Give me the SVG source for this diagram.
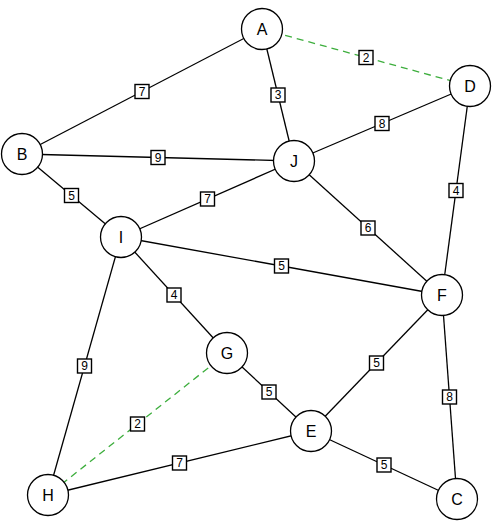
<svg xmlns="http://www.w3.org/2000/svg" width="492" height="528" viewBox="0 0 492 528">
<style>
.e{stroke:#000;stroke-width:1.3;fill:none}
.g{stroke:#3dae3d;stroke-width:1.3;stroke-dasharray:7,5;fill:none}
.n circle{fill:#fff;stroke:#000;stroke-width:1.3}
.n text{font-family:"Liberation Sans",Arial,sans-serif;font-size:16px;text-anchor:middle;dominant-baseline:central;fill:#000}
.w rect{fill:#fff;stroke:#000;stroke-width:1.4}
.w text{font-family:"Liberation Sans",Arial,sans-serif;font-size:12px;text-anchor:middle;dominant-baseline:central;fill:#000}
</style>
<rect width="492" height="528" fill="#fff"/>
<g id="connectors">
<line class="e" x1="262" y1="29" x2="22" y2="154"/>
<line class="e" x1="262" y1="29" x2="294" y2="161"/>
<line class="g" x1="262" y1="29" x2="470" y2="86"/>
<line class="e" x1="294" y1="161" x2="470" y2="86"/>
<line class="e" x1="22" y1="154" x2="294" y2="161"/>
<line class="e" x1="22" y1="154" x2="121" y2="237"/>
<line class="e" x1="294" y1="161" x2="121" y2="237"/>
<line class="e" x1="294" y1="161" x2="442" y2="295"/>
<line class="e" x1="121" y1="237" x2="442" y2="295"/>
<line class="e" x1="470" y1="86" x2="442" y2="295"/>
<line class="e" x1="121" y1="237" x2="227" y2="353"/>
<line class="e" x1="121" y1="237" x2="48" y2="495"/>
<line class="e" x1="442" y1="295" x2="311" y2="431"/>
<line class="e" x1="442" y1="295" x2="457" y2="499"/>
<line class="e" x1="227" y1="353" x2="311" y2="431"/>
<line class="g" x1="227" y1="353" x2="48" y2="495"/>
<line class="e" x1="48" y1="495" x2="311" y2="431"/>
<line class="e" x1="311" y1="431" x2="457" y2="499"/>
<g class="w">
<rect x="135" y="84.5" width="14" height="14"/><text x="142" y="91.5">7</text>
<rect x="271" y="88" width="14" height="14"/><text x="278" y="95">3</text>
<rect x="359" y="50.5" width="14" height="14"/><text x="366" y="57.5">2</text>
<rect x="375" y="116.5" width="14" height="14"/><text x="382" y="123.5">8</text>
<rect x="151" y="150.5" width="14" height="14"/><text x="158" y="157.5">9</text>
<rect x="64.5" y="188.5" width="14" height="14"/><text x="71.5" y="195.5">5</text>
<rect x="200.5" y="192" width="14" height="14"/><text x="207.5" y="199">7</text>
<rect x="361" y="221" width="14" height="14"/><text x="368" y="228">6</text>
<rect x="274.5" y="259" width="14" height="14"/><text x="281.5" y="266">5</text>
<rect x="449" y="183.5" width="14" height="14"/><text x="456" y="190.5">4</text>
<rect x="167" y="288" width="14" height="14"/><text x="174" y="295">4</text>
<rect x="77.5" y="359" width="14" height="14"/><text x="84.5" y="366">9</text>
<rect x="369.5" y="356" width="14" height="14"/><text x="376.5" y="363">5</text>
<rect x="442.5" y="390" width="14" height="14"/><text x="449.5" y="397">8</text>
<rect x="262" y="385" width="14" height="14"/><text x="269" y="392">5</text>
<rect x="130.5" y="417" width="14" height="14"/><text x="137.5" y="424">2</text>
<rect x="172.5" y="456" width="14" height="14"/><text x="179.5" y="463">7</text>
<rect x="377" y="458" width="14" height="14"/><text x="384" y="465">5</text>
</g>
</g>
<g id="A" class="n"><circle cx="262" cy="29" r="20.5"/><text x="262" y="29">A</text></g>
<g id="B" class="n"><circle cx="22" cy="154" r="20.5"/><text x="22" y="154">B</text></g>
<g id="J" class="n"><circle cx="294" cy="161" r="20.5"/><text x="294" y="161">J</text></g>
<g id="D" class="n"><circle cx="470" cy="86" r="20.5"/><text x="470" y="86">D</text></g>
<g id="I" class="n"><circle cx="121" cy="237" r="20.5"/><text x="121" y="237">I</text></g>
<g id="F" class="n"><circle cx="442" cy="295" r="20.5"/><text x="442" y="295">F</text></g>
<g id="G" class="n"><circle cx="227" cy="353" r="20.5"/><text x="227" y="353">G</text></g>
<g id="E" class="n"><circle cx="311" cy="431" r="20.5"/><text x="311" y="431">E</text></g>
<g id="H" class="n"><circle cx="48" cy="495" r="20.5"/><text x="48" y="495">H</text></g>
<g id="C" class="n"><circle cx="457" cy="499" r="20.5"/><text x="457" y="499">C</text></g>
</svg>
